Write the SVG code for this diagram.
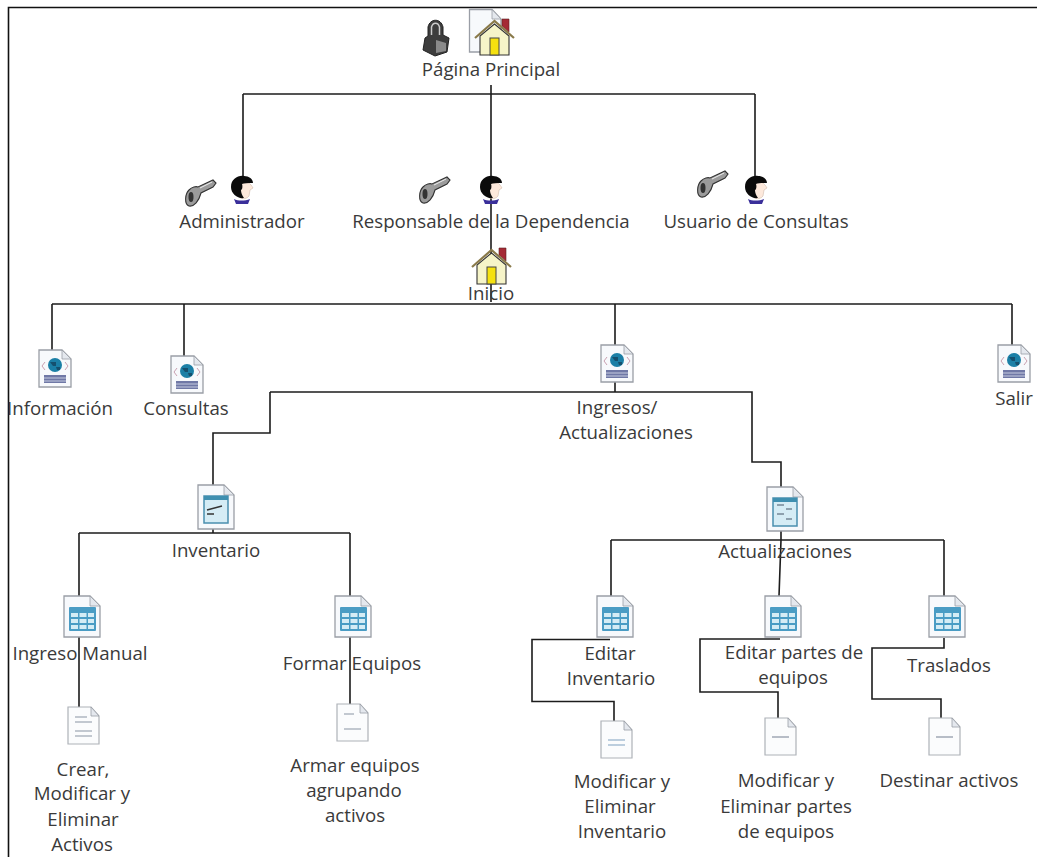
<svg xmlns="http://www.w3.org/2000/svg" width="1037" height="857" viewBox="0 0 1037 857">
<style>
text{font-family:"Open Sans","Noto Sans",sans-serif;font-size:18.700px;fill:#3a3a3a;text-anchor:middle}
.c{fill:none;stroke:#1c1c1c;stroke-width:1.600}
.pg{fill:#f7f9fc;stroke:#9a9ea6;stroke-width:1.300}
.f{fill:#e4e8ee;stroke:#9a9ea6;stroke-width:.8}
.ln{stroke:#8a93a3;stroke-width:1.200}
.doc{fill:#fbfcfd;stroke:#aeb2b8;stroke-width:1.200}
</style>
<defs>
<symbol id="page" overflow="visible"><path class="pg" d="M0 0H26L36 10V44H0Z"/><path class="f" d="M26 0V10H36Z"/></symbol>
<symbol id="table" overflow="visible"><path class="pg" d="M0 0H26L36 10V41H0Z"/><path class="f" d="M26 0V10H36Z"/><rect x="5" y="11" width="27" height="24" rx="1" fill="#4a9cc4"/><g fill="#d5ecf5"><rect x="7" y="17" width="7" height="4"/><rect x="15.500" y="17" width="7" height="4"/><rect x="24" y="17" width="6" height="4"/><rect x="7" y="23" width="7" height="4"/><rect x="15.500" y="23" width="7" height="4"/><rect x="24" y="23" width="6" height="4"/><rect x="7" y="29" width="7" height="4"/><rect x="15.500" y="29" width="7" height="4"/><rect x="24" y="29" width="6" height="4"/></g></symbol>
<symbol id="web" overflow="visible"><path class="pg" d="M0 0H23L32 9V37H0Z"/><path class="f" d="M23 0V9H32Z"/><path d="M6 12L3 16L6 20M26 12L29 16L26 20" stroke="#c9a0b0" fill="none"/><circle cx="16" cy="15" r="7" fill="#1b7fa6"/><path d="M11 12h6v4h-3zM17 17h4v3h-3z" fill="#15506e"/><rect x="5" y="25" width="22" height="8" fill="#6f78a6"/><path d="M5 28H27M5 31H27" stroke="#c6cbe0"/></symbol>
<symbol id="doc" overflow="visible"><path class="doc" d="M0 0H23L31 9V37H0Z"/><path class="f" d="M23 0V9H31Z"/></symbol>
<symbol id="house" overflow="visible"><path d="M27 1h7v13l-7-6z" fill="#a52a35" stroke="#5a2020" stroke-width=".6"/><path d="M5 18V37H34V18L19.500 6Z" fill="#f6f4c8" stroke="#333" stroke-width="1.100"/><path d="M0 20L19.500 3L39 20" fill="none" stroke="#8a7a4a" stroke-width="2.200"/><rect x="15" y="20" width="9" height="17" fill="#f5e10f" stroke="#444"/></symbol>
<symbol id="key" overflow="visible"><path d="M28 0L31 3L28 7L16 13C14 21 9 27 4 26C-1 24 0 14 4 10C7 7 11 6 13 7Z" fill="#9b9b9b" stroke="#333" stroke-width="1.100"/><ellipse cx="6" cy="17" rx="2.500" ry="5" fill="#333"/><path d="M15 8L27 2" stroke="#eee"/></symbol>
<symbol id="user" overflow="visible"><path d="M4 24C8 26 15 26 20 24L18 29H6Z" fill="#3a2f9a"/><path d="M9 6C16 4 21 9 23 13L20 15L19 21C16 25 10 24 8 21Z" fill="#fde9dc" stroke="#c8b0a0" stroke-width=".5"/><path d="M1 12C1 4 8 0 14 1C19 1 23 4 23 8C18 8 14 8 12 9C13 12 12 15 11 15C11 18 12 20 14 23C8 24 1 19 1 12Z" fill="#0b0b0b"/></symbol>
</defs>
<rect width="1037" height="857" fill="#fff"/>
<path d="M8.500 857V7.500H1037" fill="none" stroke="#111" stroke-width="1.600"/>
<g id="connectors">
<path class="c" d="M491 85V302M243 94H755M243 94V178M755 94V178"/>
<path class="c" d="M52 304H1012M52 304V350M184 304V356M615 304V346M1012 304V345"/>
<path class="c" d="M615 375V392M270 392H752V462H781V487M270 392V433H213V485"/>
<path class="c" d="M213 529V533M79 533H350M79 533V596M350 533V596"/>
<path class="c" d="M79 637V707M350 637V705"/>
<path class="c" d="M781 531V540M611 540H944M611 540V596M781 540L779 596M944 540V596"/>
<path class="c" d="M610 639.500H532V701.500H614V721"/>
<path class="c" d="M780 639H700V692H778V718"/>
<path class="c" d="M944 638V648H872V699H941V718"/>
</g>
<g id="n-principal"><path class="pg" d="M469.500 9.500H492L501 19V52H469.500Z"/><path class="f" d="M492 9.500V19H501Z"/><use href="#house" x="475" y="18"/><path d="M425 38L423 50L435 56L447 52L449 38L443 35V27C441 18 430 18 428 27V36Z" fill="#3d3d3d" stroke="#222" stroke-width="1"/><path d="M431.500 35V27C433 22 438 22 439.500 27V35" fill="none" stroke="#ccc" stroke-width="1.500"/><path d="M436 40L446 43V51L436 53Z" fill="#8a8a8a"/><text x="491" y="76">Página Principal</text></g>
<g id="n-admin"><use href="#key" x="185" y="180"/><use href="#user" x="230" y="175"/><text x="242" y="228">Administrador</text></g>
<g id="n-responsable"><use href="#key" x="419" y="177"/><use href="#user" x="479" y="175"/><text x="491" y="228">Responsable de la Dependencia</text></g>
<g id="n-usuario"><use href="#key" x="697" y="171"/><use href="#user" x="744" y="175"/><text x="756" y="228">Usuario de Consultas</text></g>
<g id="n-inicio"><use href="#house" x="472" y="247"/><text x="491" y="300">Inicio</text></g>
<g id="n-informacion"><use href="#web" x="39" y="350"/><text x="60" y="415">Información</text></g>
<g id="n-consultas"><use href="#web" x="171" y="356"/><text x="186" y="415">Consultas</text></g>
<g id="n-ingresos"><use href="#web" x="601" y="345"/><text x="617" y="414">Ingresos/</text><text x="626" y="439">Actualizaciones</text></g>
<g id="n-salir"><use href="#web" x="998" y="345"/><text x="1014" y="405">Salir</text></g>
<g id="n-inventario"><use href="#page" x="198" y="485"/><rect x="204" y="496" width="24" height="27" fill="#d5ecf5" stroke="#4a8fae" stroke-width="1.500"/><rect x="204" y="496" width="24" height="4" fill="#3f8fb0"/><path d="M207 510L222 506M207 514H214" stroke="#333" stroke-width="1.500"/><text x="216" y="557">Inventario</text></g>
<g id="n-actualizaciones"><use href="#page" x="767" y="487"/><rect x="773" y="498" width="24" height="28" fill="#d5ecf5" stroke="#4a8fae" stroke-width="1.500"/><rect x="773" y="498" width="24" height="4" fill="#3f8fb0"/><path d="M777 505H784M786 509H792M777 514H784M786 519H792" stroke="#456" stroke-width="1"/><text x="785" y="558">Actualizaciones</text></g>
<g id="n-ingreso-manual"><use href="#table" x="64" y="596"/><text x="80" y="660">Ingreso Manual</text></g>
<g id="n-formar"><use href="#table" x="335" y="596"/><text x="352" y="670">Formar Equipos</text></g>
<g id="n-editar-inv"><use href="#table" x="597" y="596"/><text x="610" y="660">Editar</text><text x="611" y="685">Inventario</text></g>
<g id="n-editar-partes"><use href="#table" x="765" y="596"/><text x="794" y="659">Editar partes de</text><text x="793" y="684">equipos</text></g>
<g id="n-traslados"><use href="#table" x="929" y="596"/><text x="949" y="672">Traslados</text></g>
<g id="n-crear"><use href="#doc" x="68" y="707"/><path class="ln" d="M75 717H87M75 722H92M75 731H92M75 736H92"/><text x="83" y="776">Crear,</text><text x="82" y="800">Modificar y</text><text x="83" y="826">Eliminar</text><text x="82" y="851">Activos</text></g>
<g id="n-armar"><use href="#doc" x="337" y="704"/><path class="ln" d="M344 714H354M344 729H361"/><text x="355" y="772">Armar equipos</text><text x="354" y="797">agrupando</text><text x="355" y="822">activos</text></g>
<g id="n-mod-inv"><use href="#doc" x="601" y="721"/><path d="M608 740H625M608 745H625" stroke="#7fa0bf" stroke-width="1.200"/><text x="622" y="788">Modificar y</text><text x="620" y="813">Eliminar</text><text x="622" y="838">Inventario</text></g>
<g id="n-mod-partes"><use href="#doc" x="765" y="718"/><path class="ln" d="M772 737H789"/><text x="786" y="787">Modificar y</text><text x="786" y="813">Eliminar partes</text><text x="786" y="838">de equipos</text></g>
<g id="n-destinar"><use href="#doc" x="929" y="718"/><path class="ln" d="M936 737H953"/><text x="949" y="787">Destinar activos</text></g>
</svg>
